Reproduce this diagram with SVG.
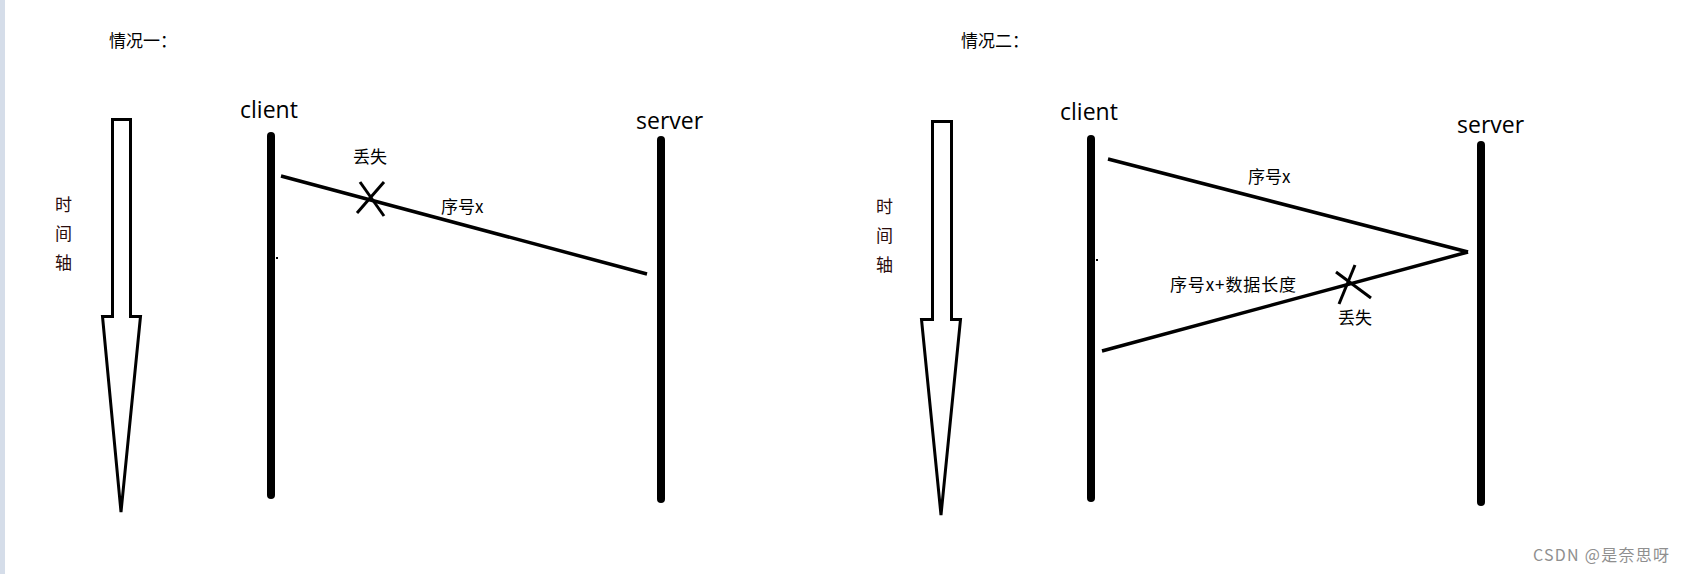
<svg xmlns="http://www.w3.org/2000/svg" width="1685" height="574" viewBox="0 0 1685 574">
<style>
.bg{fill:#ffffff}
.strip{fill:#d5dde9}
.cjk{font-family:"Noto Sans CJK SC","Noto Sans",sans-serif;font-size:17px;fill:#000}
.axis{font-family:"Noto Sans CJK SC","Noto Sans",sans-serif;font-size:17px;fill:#2a0c0c}
.lbl{font-family:"Open Sans","Noto Sans",sans-serif;font-size:23px;fill:#000}
.life{stroke:#000;stroke-width:8;stroke-linecap:round;fill:none}
.msg{stroke:#000;stroke-width:3.5;fill:none}
.cross{stroke:#000;stroke-width:3;fill:none}
.tarrow{stroke:#000;stroke-width:3;fill:#fff;stroke-linejoin:miter}
.wm{font-family:"Noto Sans CJK SC","Liberation Sans",sans-serif;font-size:16px;fill:#8f8f8f}
</style>
<rect class="bg" x="0" y="0" width="1685" height="574"/>
<rect class="strip" x="0" y="0" width="5" height="574"/>

<g id="title1"><text class="cjk" x="109" y="47">情况一：</text></g>
<g id="title2"><text class="cjk" x="961" y="47">情况二：</text></g>

<g id="timeaxis1">
<polygon class="tarrow" points="112.5,119.5 130.5,119.5 130.5,316.5 140.5,316.5 121,512 102.5,316.5 112.5,316.5"/>
<text class="axis" x="55" y="211">时</text>
<text class="axis" x="55" y="240">间</text>
<text class="axis" x="55" y="269">轴</text>
</g>
<g id="timeaxis2">
<polygon class="tarrow" points="932.5,121.5 951.5,121.5 951.5,319.5 960.5,319.5 941,515 921.5,319.5 932.5,319.5"/>
<text class="axis" x="876" y="213">时</text>
<text class="axis" x="876" y="242">间</text>
<text class="axis" x="876" y="271">轴</text>
</g>

<g id="client1">
<text class="lbl" x="240" y="118">client</text>
<line class="life" x1="271" y1="136" x2="271" y2="495"/>
<rect x="276" y="257" width="2" height="2" fill="#000"/>
</g>
<g id="server1">
<text class="lbl" x="636" y="129">server</text>
<line class="life" x1="661" y1="140" x2="661" y2="499"/>
</g>
<g id="client2">
<text class="lbl" x="1060" y="120">client</text>
<line class="life" x1="1091" y1="139" x2="1091" y2="498"/>
<rect x="1096" y="259" width="2" height="2" fill="#000"/>
</g>
<g id="server2">
<text class="lbl" x="1457" y="133">server</text>
<line class="life" x1="1481" y1="145" x2="1481" y2="502"/>
</g>

<g id="connectors">
<line class="msg" x1="281" y1="176" x2="647" y2="274"/>
<line class="msg" x1="1108" y1="159" x2="1468" y2="252"/>
<line class="msg" x1="1468" y1="252" x2="1102" y2="351"/>
</g>

<g id="loss1">
<line class="cross" x1="357" y1="213" x2="384" y2="182"/>
<line class="cross" x1="360" y1="182" x2="384" y2="216"/>
<text class="cjk" x="353" y="163">丢失</text>
</g>
<g id="label1"><text class="cjk" x="441" y="213">序号x</text></g>

<g id="labelA"><text class="cjk" x="1248" y="183">序号x</text></g>
<g id="labelB"><text class="cjk" x="1170" y="291" textLength="126">序号x+数据长度</text></g>
<g id="loss2">
<line class="cross" x1="1339" y1="304" x2="1355" y2="265"/>
<line class="cross" x1="1336" y1="272" x2="1371" y2="298"/>
<text class="cjk" x="1338" y="324">丢失</text>
</g>

<g id="watermark"><text class="wm" x="1533" y="561" textLength="136">CSDN @是奈思呀</text></g>
</svg>
